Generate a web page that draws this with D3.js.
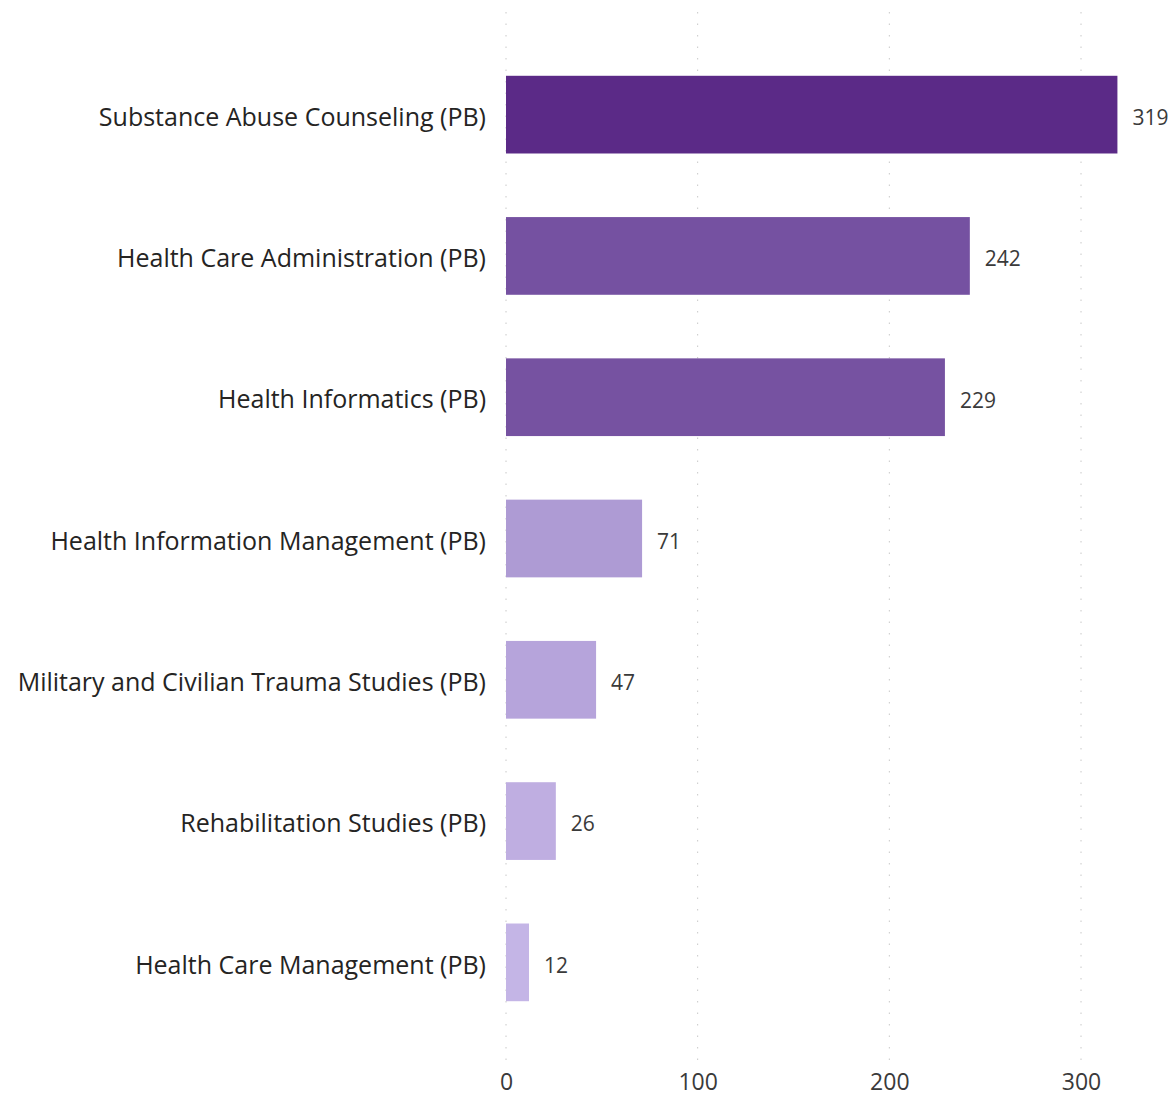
<!DOCTYPE html>
<html>
<head>
<meta charset="utf-8">
<script src="https://cdn.jsdelivr.net/npm/d3@7"></script>
<style>
  html, body { margin: 0; padding: 0; background: #fff; }
  svg { display: block; }
  text { font-family: "Open Sans", "Noto Sans", sans-serif; }
</style>
</head>
<body>
<svg id="chart" width="1176" height="1099"></svg>
<script>
// Programs and their counts
const programs = [
  "Substance Abuse Counseling (PB)",
  "Health Care Administration (PB)",
  "Health Informatics (PB)",
  "Health Information Management (PB)",
  "Military and Civilian Trauma Studies (PB)",
  "Rehabilitation Studies (PB)",
  "Health Care Management (PB)"
];
const counts = [319, 242, 229, 71, 47, 26, 12];
const xTicks = [0, 100, 200, 300];

// Bar fill shades, darkest for the largest count
const barColors = ["#5b2a87", "#7551a1", "#7652a1", "#ae9bd4", "#b6a4db", "#bfaee1", "#c4b5e6"];

const svg = d3.select("#chart");
const margin = { left: 506, right: 0, top: 44, bottom: 66 };
const W = 1176, H = 1099;

const x = d3.scaleLinear().domain([0, 300]).range([margin.left, 1081]);
const y = d3.scaleBand().domain(programs).range([margin.top, H - margin.bottom]).paddingInner(0.45).paddingOuter(0.225);

// Dotted vertical gridlines
svg.append("g")
  .selectAll("line")
  .data(xTicks)
  .join("line")
  .attr("x1", d => x(d)).attr("x2", d => x(d))
  .attr("y1", 12).attr("y2", 1066)
  .attr("stroke", "#c8c8c8")
  .attr("stroke-width", 1)
  .attr("stroke-dasharray", "1.5,10");

// Bars
svg.append("g")
  .selectAll("rect")
  .data(programs)
  .join("rect")
  .attr("x", x(0))
  .attr("y", d => y(d))
  .attr("width", (d, i) => x(counts[i]) - x(0))
  .attr("height", y.bandwidth())
  .attr("fill", (d, i) => barColors[i]);

// Value labels
svg.append("g")
  .selectAll("text")
  .data(programs)
  .join("text")
  .attr("x", (d, i) => x(counts[i]) + 15)
  .attr("y", d => y(d) + y.bandwidth() / 2 + 3)
  .attr("dy", "0.35em")
  .attr("font-size", 21)
  .attr("fill", "#3a3a3a")
  .text((d, i) => counts[i]);

// Category axis (labels only)
const yAxis = svg.append("g")
  .attr("transform", `translate(${margin.left},0)`)
  .call(d3.axisLeft(y).tickSize(0).tickPadding(20));
yAxis.select(".domain").remove();
yAxis.selectAll("text")
  .attr("font-size", 25)
  .attr("dy", "0.45em")
  .attr("fill", "#252423")
  .style("font-family", "\"Open Sans\", \"Noto Sans\", sans-serif");

// Value axis (labels only)
const xAxis = svg.append("g")
  .attr("transform", `translate(0,${1074})`)
  .call(d3.axisBottom(x).tickValues(xTicks).tickSize(0).tickPadding(0));
xAxis.select(".domain").remove();
xAxis.selectAll("text")
  .attr("font-size", 23)
  .attr("fill", "#3a3a3a")
  .attr("dy", "0.71em")
  .style("font-family", "\"Open Sans\", \"Noto Sans\", sans-serif");
</script>
</body>
</html>
